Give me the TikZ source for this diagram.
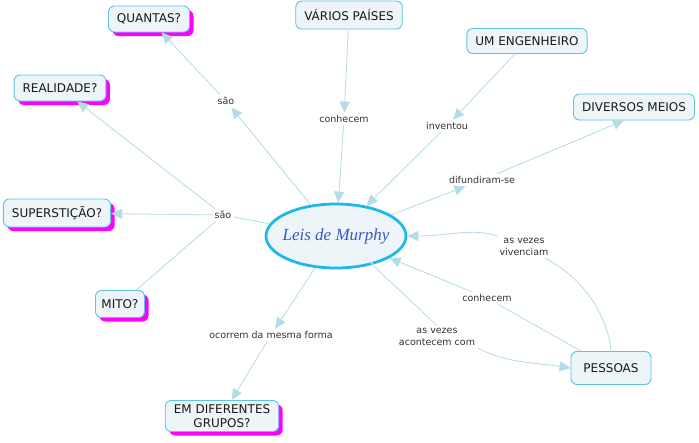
\documentclass[tikz,border=0pt]{standalone}
\usepackage{fontspec}
\newfontfamily\dejavu{DejaVu Sans}
\newfontfamily\murphyfont{Liberation Serif}
\usetikzlibrary{arrows.meta,shadows,shapes.geometric}
\definecolor{boxfill}{HTML}{EEF5F8}
\definecolor{boxline}{HTML}{5CC4E0}
\definecolor{linkc}{HTML}{B4DCE6}
\definecolor{lbltext}{HTML}{333333}
\definecolor{ellline}{HTML}{1EB8EA}
\definecolor{murphyblue}{HTML}{3A55C8}
\definecolor{shadc}{HTML}{FF00FF}
\begin{document}
\begin{tikzpicture}[x=1pt,y=-1pt,
  concept/.style={draw=boxline,line width=0.9pt,fill=boxfill,rounded corners=6pt,
    font=\dejavu\fontsize{12}{14}\selectfont,text=black!90,inner xsep=8.5pt,
    minimum height=26pt,align=center},
  shad/.style={drop shadow={shadow xshift=4pt,shadow yshift=-4pt,fill=shadc,opacity=1}},
  lbl/.style={font=\dejavu\fontsize{9.5}{11.5}\selectfont,text=lbltext,inner sep=2.5pt,align=center},
  link/.style={draw=linkc,line width=0.8pt},
  arr/.style={link,-{Triangle[length=11pt,width=10pt,fill=linkc]}}
]
\useasboundingbox (0,0) rectangle (699,442);
\fill[white] (0,0) rectangle (699,442);

% concepts
\node[concept,shad] (quantas) at (149,19) {QUANTAS?};
\node[concept,minimum height=28pt] (varios) at (349,15) {VÁRIOS PAÍSES};
\node[concept,minimum height=25pt] (eng) at (527,41) {UM ENGENHEIRO};
\node[concept] (meios) at (634,107) {DIVERSOS MEIOS};
\node[concept,shad] (realidade) at (60,88) {REALIDADE?};
\node[concept,shad,minimum height=28pt] (super) at (57,213) {SUPERSTIÇÃO?};
\node[concept,shad,minimum height=27pt,inner xsep=6pt] (mito) at (120,304) {MITO?};
\node[concept,shad,inner ysep=4pt] (grupos) at (222,416) {EM DIFERENTES\\GRUPOS?};
\node[concept,minimum height=33pt,minimum width=80pt] (pessoas) at (611,368) {PESSOAS};
\node[ellipse,draw=ellline,line width=2.8pt,fill=boxfill,minimum width=140pt,minimum height=64pt,
  inner sep=0pt,text=murphyblue,font=\murphyfont\fontsize{17}{19}\selectfont\itshape] (murphy) at (336,236) {\makebox[0pt]{Leis de Murphy}};

% linking phrases
\node[lbl] (sao1) at (226,101) {são};
\node[lbl] (conh1) at (344,119) {conhecem};
\node[lbl] (inv) at (447,126) {inventou};
\node[lbl] (dif) at (482,180) {difundiram-se};
\node[lbl] (sao2) at (223,215) {são};
\node[lbl] (viv) at (524,247) {as vezes\\vivenciam};
\node[lbl] (conh2) at (487,298) {conhecem};
\node[lbl] (acont) at (437,337) {as vezes\\acontecem com};
\node[lbl] (ocorrem) at (271,335) {ocorrem da mesma forma};

% connectors
\draw[arr] (murphy) -- (sao1);
\draw[arr] (sao1) -- (quantas);
\draw[arr] (varios) -- (conh1);
\draw[arr] (conh1) -- (murphy);
\draw[arr] (eng) -- (inv);
\draw[arr] (inv) -- (murphy);
\draw[arr] (murphy) -- (dif);
\draw[arr] (dif) -- ([xshift=-10pt]meios.south);
\draw[link] (murphy) -- (sao2);
\draw[arr] (sao2) -- (realidade);
\draw[arr] (sao2) -- (super);
\draw[link] (sao2) -- (mito);
\draw[arr] (murphy) -- (ocorrem);
\draw[arr] (ocorrem) -- (grupos);
\draw[link] (pessoas.north) .. controls +(-4,-40) and +(35,18) .. ([xshift=-6pt]viv.south east);
\draw[arr] (viv.north west) .. controls +(-25,-8) and +(40,0) .. (murphy.east);
\draw[link] (pessoas) -- (conh2);
\draw[arr] (conh2) -- (murphy);
\draw[link] (murphy) .. controls +(20,15) and +(-20,-20) .. (acont.north);
\draw[arr] (acont.south east) .. controls +(30,15) and +(-40,-6) .. (pessoas.west);
\end{tikzpicture}
\end{document}
